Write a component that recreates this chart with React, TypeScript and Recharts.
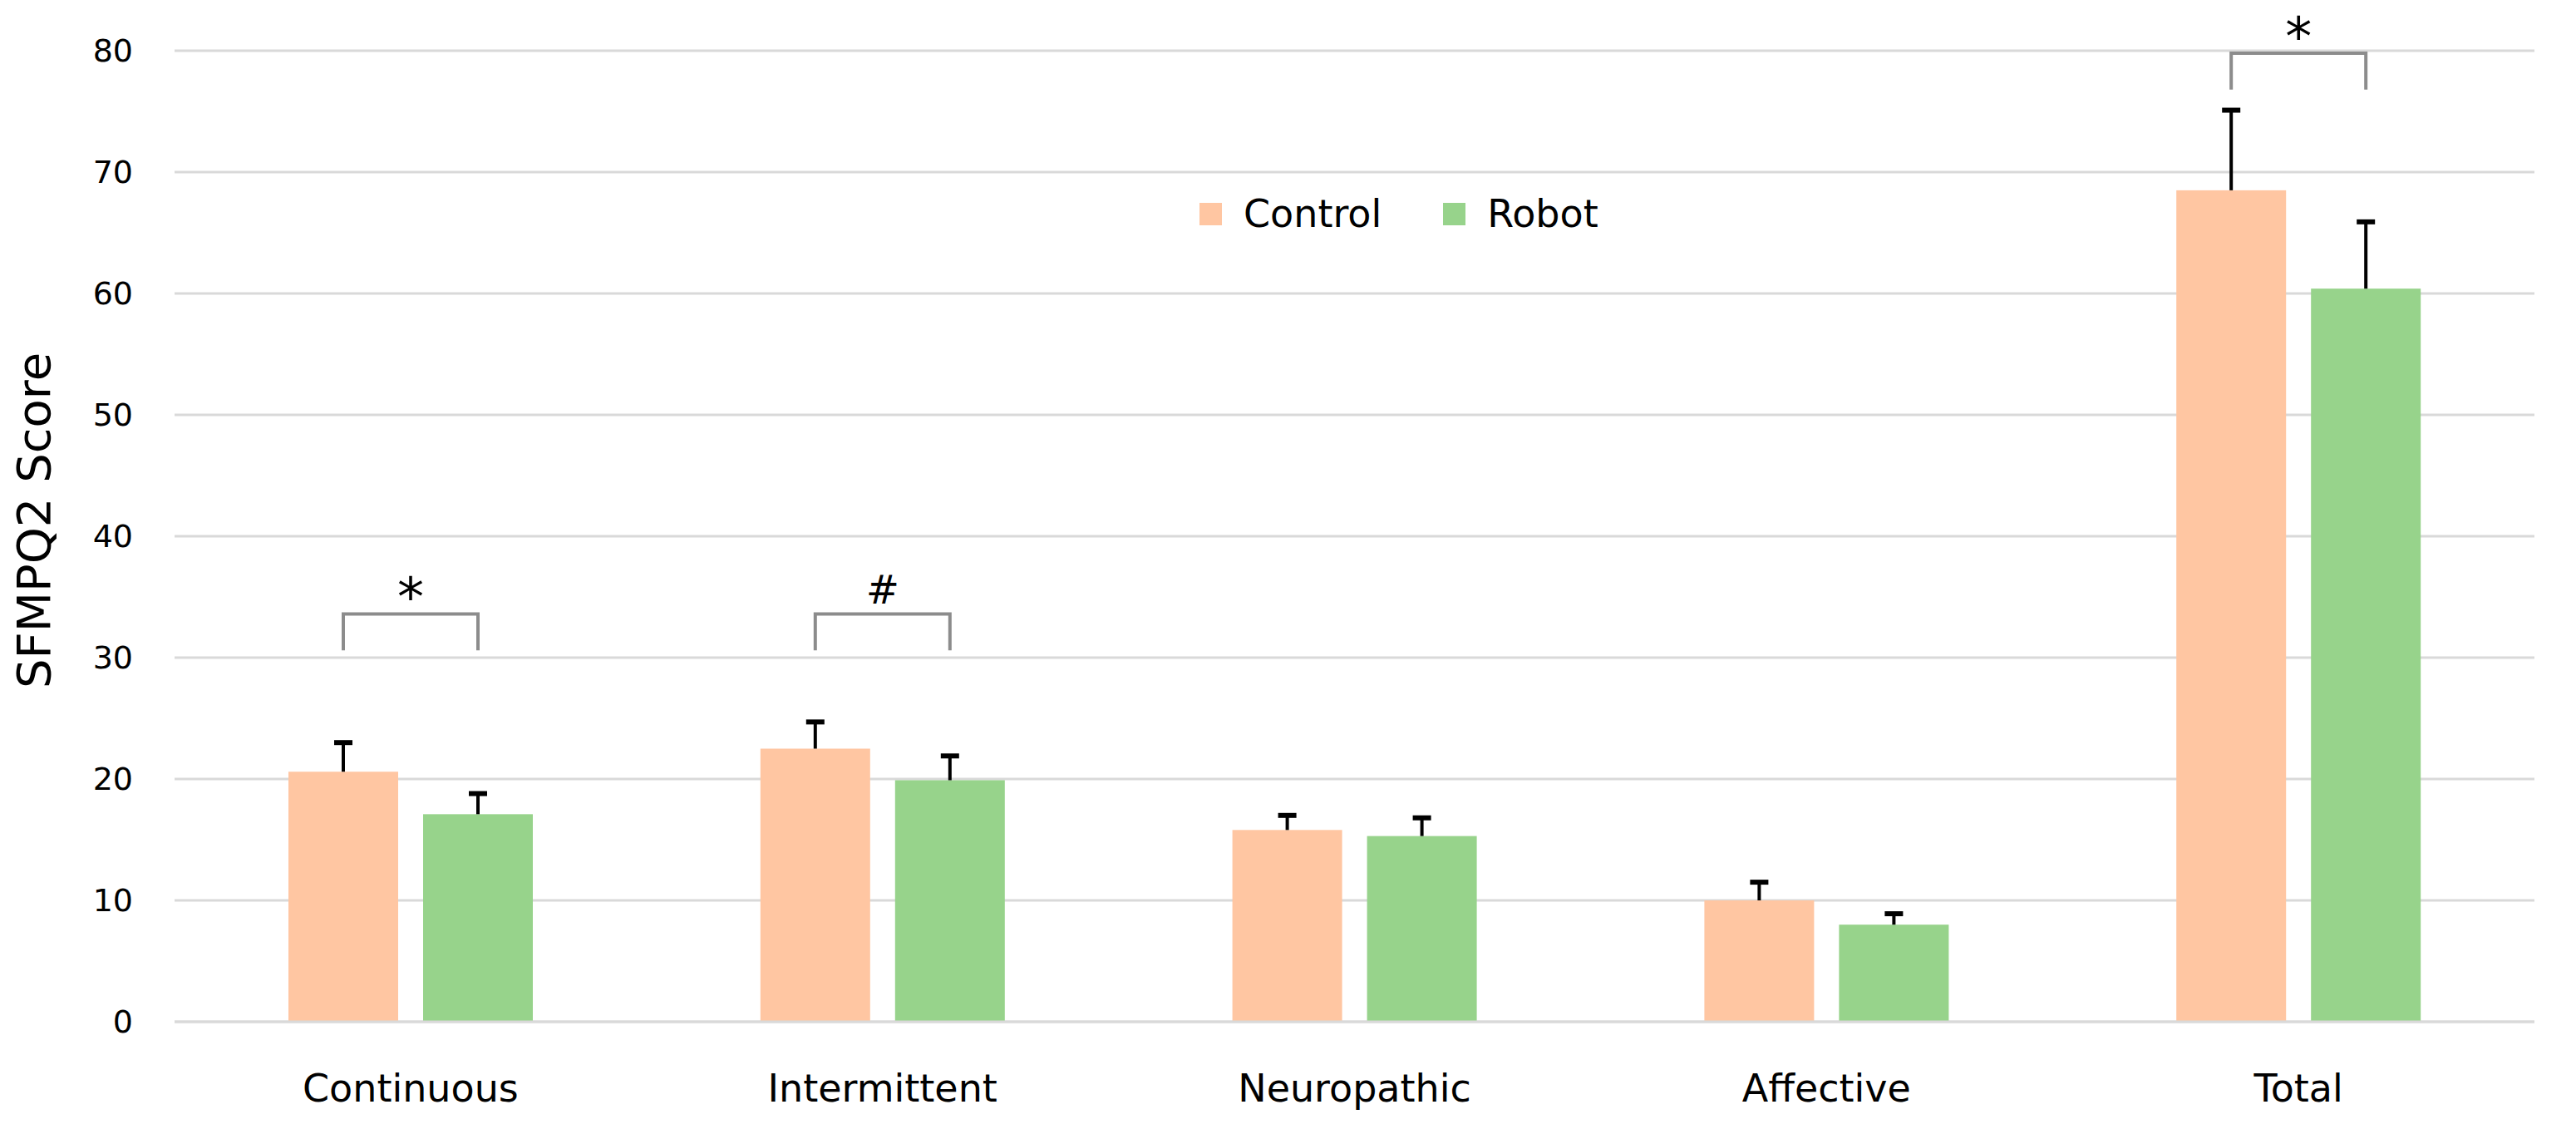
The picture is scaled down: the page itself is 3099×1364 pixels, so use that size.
import React from 'react';
import { BarChart, Bar, XAxis, YAxis, CartesianGrid, Legend } from 'recharts';

const categories = ['Continuous', 'Intermittent', 'Neuropathic', 'Affective', 'Total'];
const controlMeans = [20.6, 22.5, 15.8, 10.0, 68.5];
const robotMeans = [17.1, 19.9, 15.3, 8.0, 60.4];
const controlErr = [2.4, 2.2, 1.2, 1.5, 6.6];
const robotErr = [1.7, 2.0, 1.5, 0.9, 5.5];
const bracketLevel = [33.6, 33.6, null, null, 79.8];
const bracketMark = ['*', '#', '', '', '*'];
const yTicks = [0, 10, 20, 30, 40, 50, 60, 70, 80];

const FONT = '"DejaVu Sans", Verdana, sans-serif';
const BAR_SIZE = 132;
const BAR_GAP = 30;

const data = categories.map((name, i) => ({
  name,
  Control: controlMeans[i],
  Robot: robotMeans[i],
  controlErr: controlErr[i],
  robotErr: robotErr[i],
  bracket: bracketLevel[i],
  mark: bracketMark[i],
}));

// bar + upper error whisker; optionally the significance bracket
function makeShape(valueKey: string, errKey: string, withBracket: boolean) {
  return (props: any) => {
    const { x, y, width, height, fill, payload } = props;
    const value = payload[valueKey];
    const perUnit = height / value;
    const cx = x + width / 2;
    const errTop = y - payload[errKey] * perUnit;
    const parts = [
      <rect key="r" x={x} y={y} width={width} height={height} fill={fill} />,
      <line key="e" x1={cx} y1={y} x2={cx} y2={errTop} stroke="#000" strokeWidth={4} />,
      <line key="c" x1={cx - 11} y1={errTop} x2={cx + 11} y2={errTop} stroke="#000" strokeWidth={6} />,
    ];
    if (withBracket && payload.bracket != null) {
      const base = y + height;
      const top = base - payload.bracket * perUnit;
      const legBottom = base - (payload.bracket - 3) * perUnit;
      const left = x - BAR_GAP - width / 2;
      const isStar = payload.mark === '*';
      parts.push(
        <polyline
          key="b"
          points={`${left},${legBottom} ${left},${top} ${cx},${top} ${cx},${legBottom}`}
          fill="none"
          stroke="#8c8c8c"
          strokeWidth={4}
        />,
        <text
          key="m"
          x={(left + cx) / 2}
          y={isStar ? top + 2 : top - 12}
          textAnchor="middle"
          fontFamily={FONT}
          fontSize={isStar ? 64 : 48}
          fill="#000"
        >
          {payload.mark}
        </text>
      );
    }
    return <g>{parts}</g>;
  };
}

const renderLegend = (props: any) => {
  const { payload } = props;
  return (
    <div style={{ display: 'flex', alignItems: 'center', fontFamily: FONT, fontSize: 46, color: '#000' }}>
      {payload.map((entry: any, i: number) => (
        <div key={entry.value} style={{ display: 'flex', alignItems: 'center', marginRight: i === 0 ? 74 : 0 }}>
          <span style={{ display: 'inline-block', width: 27, height: 27, background: entry.color, marginRight: 26 }} />
          <span>{entry.value}</span>
        </div>
      ))}
    </div>
  );
};

export default function App() {
  return (
    <div style={{ width: 3099, height: 1364, background: '#fff' }}>
      <style>{'body{margin:0;}'}</style>
      <BarChart
        width={3099}
        height={1364}
        data={data}
        margin={{ top: 61, right: 50, bottom: 35, left: 100 }}
        barSize={BAR_SIZE}
        barGap={BAR_GAP}
      >
        <CartesianGrid vertical={false} stroke="#d9d9d9" strokeWidth={3} />
        <XAxis
          dataKey="name"
          axisLine={{ stroke: '#d9d9d9', strokeWidth: 3 }}
          tickLine={false}
          tickSize={0}
          tickMargin={63}
          height={100}
          tick={{ fontFamily: FONT, fontSize: 46, fill: '#000' }}
        />
        <YAxis
          domain={[0, 80]}
          ticks={yTicks}
          width={110}
          axisLine={false}
          tickLine={false}
          tickSize={0}
          tickMargin={50}
          tick={{ fontFamily: FONT, fontSize: 38, fill: '#000' }}
          label={{
            content: ({ viewBox }: any) => {
              const cy = viewBox.y + viewBox.height / 2 - 19;
              const tx = viewBox.x - 40;
              return (
                <text
                  x={tx}
                  y={cy}
                  transform={`rotate(-90, ${tx}, ${cy})`}
                  textAnchor="middle"
                  fontFamily={FONT}
                  fontSize={56}
                  fill="#000"
                >
                  SFMPQ2 Score
                </text>
              );
            },
          }}
        />
        <Legend
          layout="horizontal"
          verticalAlign="middle"
          align="center"
          content={renderLegend}
          wrapperStyle={{ position: 'absolute', top: 230, left: 1443, width: 'auto' }}
        />
        <Bar dataKey="Control" fill="#FFC6A2" isAnimationActive={false} shape={makeShape('Control', 'controlErr', false)} />
        <Bar dataKey="Robot" fill="#97D38B" isAnimationActive={false} shape={makeShape('Robot', 'robotErr', true)} />
      </BarChart>
    </div>
  );
}
